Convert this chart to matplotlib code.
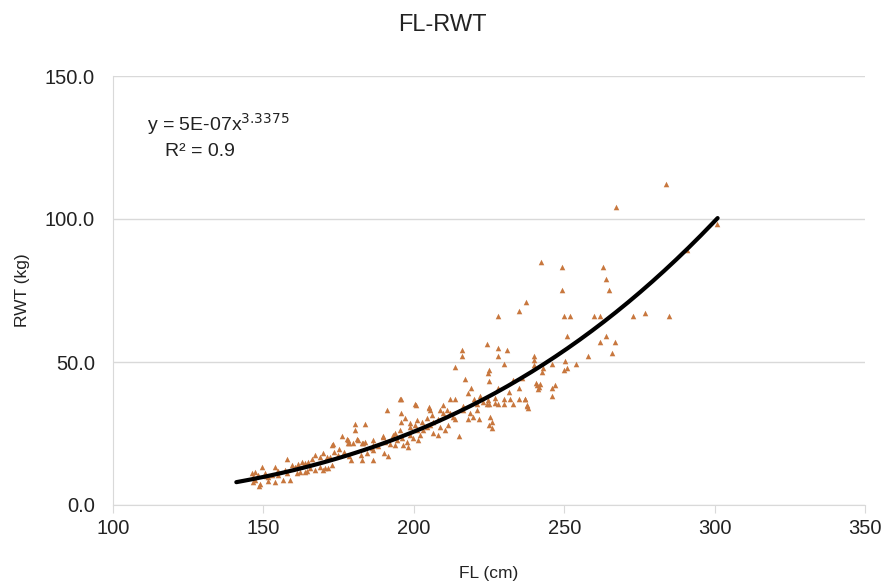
import matplotlib
matplotlib.use("Agg")
import matplotlib.pyplot as plt
import numpy as np

plt.rcParams['font.family'] = ['Liberation Sans', 'DejaVu Sans']

fl = [
    283.8, 267.2, 300.8, 290.8, 242.3, 249.3, 262.9, 263.9, 249.3, 264.9,
    249.9, 251.9, 259.9, 261.9, 272.9, 276.9, 284.8, 250.9, 263.9, 261.9,
    266.9, 265.9, 257.9, 250.3, 253.9, 245.9, 249.9, 250.9, 243.0, 242.6,
    245.9, 247.0, 245.9, 242.0, 240.0, 237.3, 235.0, 228.0, 216.0, 216.0,
    224.3, 228.0, 228.0, 231.0, 240.0, 213.7, 230.0, 225.0, 224.7, 217.0,
    225.0, 241.0, 241.5, 240.5, 241.2, 219.0, 228.0, 235.0, 218.0, 233.0,
    195.4, 212.0, 213.7, 209.7, 220.0, 224.7, 227.0, 227.0, 230.0, 232.0,
    235.0, 237.0, 205.0, 200.7, 221.0, 223.0, 224.3, 225.0, 228.0, 230.0,
    233.0, 237.6, 205.4, 208.7, 209.7, 211.0, 216.4, 218.7, 221.0, 225.3,
    226.0, 225.0, 226.0, 213.0, 213.7, 218.0, 208.7, 210.4, 211.4, 206.4,
    208.0, 215.0, 219.7, 221.7, 240.0, 237.0, 237.6, 238.0, 195.7, 191.0,
    200.4, 195.7, 197.0, 195.7, 180.5, 180.5, 183.8, 176.1, 173.1, 178.1,
    178.5, 181.4, 183.1, 186.4, 189.8, 193.8, 195.4, 198.7, 201.1, 205.0,
    198.7, 200.4, 202.7, 204.4, 206.0, 177.8, 178.1, 179.8, 181.1, 182.8,
    183.8, 186.4, 186.4, 186.0, 189.8, 190.4, 193.1, 194.4, 193.8, 196.1,
    197.7, 198.7, 196.4, 198.1, 201.1, 202.1, 203.1, 204.4, 205.4, 206.4,
    199.7, 201.4, 173.5, 174.8, 176.8, 178.4, 179.0, 182.3, 182.9, 184.6,
    186.3, 190.0, 191.3, 172.8, 169.8, 171.1, 168.8, 167.2, 172.1, 157.8,
    166.2, 164.8, 162.8, 163.8, 161.5, 159.5, 160.5, 168.8, 170.5, 172.8,
    167.2, 164.5, 149.5, 153.9, 154.5, 154.9, 157.2, 157.8, 161.2, 162.2,
    146.2, 147.2, 148.2, 150.5, 151.5, 152.9, 146.5, 148.9, 147.2, 151.5,
    153.9, 156.5, 158.8, 163.8, 165.5, 169.8, 171.5, 148.5, 146.5, 151.0,
    155.0, 175.0, 188.0, 192.0, 208.0, 212.0, 216.5, 222.0, 231.5, 236.0,
]
rwt = [
    112.2, 104.2, 98.3, 89.2, 85.0, 83.2, 83.2, 79.0, 75.2, 75.2,
    66.1, 66.1, 66.1, 66.1, 66.1, 67.1, 66.1, 59.1, 59.1, 57.0,
    57.0, 53.1, 52.1, 50.3, 49.3, 49.3, 47.2, 47.9, 47.9, 46.5,
    40.9, 42.0, 38.1, 42.3, 52.1, 71.0, 67.8, 66.1, 54.2, 52.1,
    56.3, 54.9, 52.1, 54.2, 49.0, 48.3, 49.3, 47.2, 46.2, 44.1,
    43.4, 42.0, 41.3, 42.6, 40.6, 40.9, 40.9, 40.9, 39.2, 43.7,
    37.1, 37.1, 37.1, 35.0, 37.1, 36.7, 35.7, 37.5, 37.1, 37.1,
    37.1, 37.1, 34.3, 35.0, 35.3, 36.0, 35.3, 35.3, 35.3, 35.3,
    35.3, 34.6, 33.2, 33.2, 32.2, 33.2, 33.2, 32.2, 33.2, 30.8,
    29.0, 28.0, 26.9, 30.8, 30.1, 30.1, 27.3, 26.2, 28.0, 25.2,
    24.5, 24.1, 30.8, 30.1, 50.7, 37.1, 35.0, 33.9, 37.1, 33.2,
    35.3, 32.2, 30.4, 29.0, 28.3, 26.2, 28.3, 24.1, 21.3, 22.7,
    21.7, 22.7, 21.7, 22.7, 24.1, 25.2, 26.2, 27.3, 29.7, 33.9,
    28.7, 28.0, 29.0, 30.4, 31.5, 23.1, 21.7, 21.7, 23.1, 21.7,
    22.0, 21.0, 19.2, 20.0, 23.8, 22.0, 24.5, 22.7, 21.0, 23.4,
    22.0, 24.5, 21.0, 20.3, 26.2, 24.5, 26.2, 27.3, 28.0, 29.0,
    23.4, 22.7, 18.5, 17.5, 18.5, 17.1, 15.7, 17.5, 15.7, 18.2,
    15.7, 18.2, 17.1, 21.0, 18.2, 16.8, 16.8, 17.5, 16.8, 16.1,
    16.1, 15.0, 15.0, 14.7, 14.3, 14.0, 13.3, 13.3, 12.9, 14.0,
    12.2, 11.9, 13.3, 13.3, 11.5, 10.5, 12.2, 11.2, 11.2, 11.5,
    11.2, 11.5, 10.5, 11.2, 9.8, 10.5, 9.8, 7.3, 8.7, 8.4,
    8.0, 8.7, 8.7, 11.5, 12.9, 12.2, 12.9, 6.6, 8.0, 10.0,
    12.0, 19.5, 20.5, 21.5, 30.0, 32.0, 34.5, 38.0, 39.5, 44.5,
]

# Power trend line shown in the chart
trend_a = 5.36e-7
trend_b = 3.3375
trend_xmin, trend_xmax = 141, 301
eq_text = r"y = 5E-07x$^{3.3375}$"
r2_text = "R² = 0.9"

x_ticks = [100, 150, 200, 250, 300, 350]
y_ticks = [0, 50, 100, 150]

fig = plt.figure(figsize=(8.85, 5.88), dpi=100)
ax = fig.add_axes([113/885, 1 - 505/588, (865-113)/885, (505-76)/588])

ax.scatter(fl, rwt, marker='^', s=16, color='#C8773E', linewidths=0, zorder=3)

xt = np.linspace(trend_xmin, trend_xmax, 200)
ax.plot(xt, trend_a * xt ** trend_b, color='black', lw=3, zorder=4,
        solid_capstyle='round')

ax.set_xlim(100, 350)
ax.set_ylim(0, 150)
ax.set_xticks(x_ticks)
ax.set_yticks(y_ticks)
ax.set_xticklabels([str(v) for v in x_ticks], fontsize=14.5)
ax.set_yticklabels([f"{v:.1f}" for v in y_ticks], fontsize=14.5)
ax.yaxis.grid(True, color='#D9D9D9', lw=1)
ax.set_axisbelow(True)
for s in ['top', 'right']:
    ax.spines[s].set_visible(False)
ax.spines['left'].set_color('#D9D9D9')
ax.spines['bottom'].set_color('#D9D9D9')
ax.tick_params(axis='x', length=6, color='#D9D9D9', pad=4, labelcolor='#222222')
ax.tick_params(axis='y', length=0, pad=13, labelcolor='#222222')

ax.set_xlabel("FL (cm)", fontsize=12.5, labelpad=20, color='#222222')
ax.set_ylabel("RWT (kg)", fontsize=12.5, labelpad=11, color='#222222')
fig.text(0.5, 1 - 25/588, "FL-RWT", ha='center', va='center', fontsize=17,
         color='#222222')

fig.text(147/885, 1 - 124/588, eq_text, ha='left', va='center', fontsize=14,
         color='#222222')
fig.text(165/885, 1 - 151/588, r2_text, ha='left', va='center', fontsize=14,
         color='#222222')

fig.savefig("out.png", dpi=100)
